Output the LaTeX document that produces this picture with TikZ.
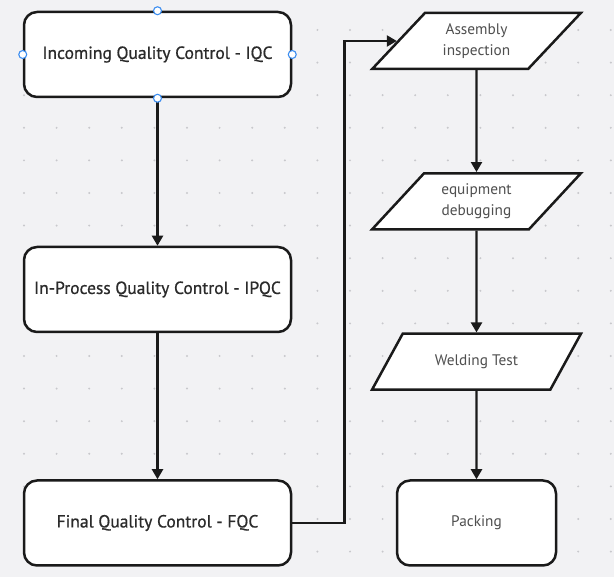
\documentclass[tikz,border=0pt]{standalone}
\usepackage{fontspec}
\setmainfont{PT Sans}
\newfontfamily\labelfont{PT Sans}[FakeBold=0.7]
\usetikzlibrary{arrows.meta, shapes.geometric}
\definecolor{cbg}{HTML}{F2F2F4}
\definecolor{cdot}{HTML}{C8C8CC}
\definecolor{cline}{HTML}{1A1A1A}
\definecolor{cdark}{HTML}{2B2B2B}
\definecolor{cgrey}{HTML}{4F4F4F}
\definecolor{chandle}{HTML}{3D8EF0}
\tikzset{
  every picture/.style={line width=2pt},
  box/.style={draw=cline, fill=white, rounded corners=13pt, line width=2.5pt, align=center,
    minimum width=267pt, minimum height=85pt, text=cdark, font=\labelfont\fontsize{17.5}{21}\selectfont},
  io/.style={trapezium, trapezium left angle=48, trapezium right angle=132, trapezium stretches=true,
    draw=cline, fill=white, line width=2.5pt, minimum width=209pt, minimum height=56pt,
    align=center, text=cgrey, font=\fontsize{15.3}{21.5}\selectfont},
  arrow/.style={-{Triangle[length=10pt, width=11pt]}, draw=cline, line width=2.2pt},
  handle/.style={circle, draw=chandle, fill=white, line width=1.1pt, inner sep=0pt, minimum size=8pt},
}

\begin{document}
\begin{tikzpicture}[x=1pt, y=-1pt]
  \fill[cbg] (0,0) rectangle (614,577);
  \useasboundingbox (0,0) rectangle (614,577);
  % dot grid
  \foreach \i in {0,...,18}
    \foreach \j in {0,...,16}
      \fill[cdot] ({24+32.6*\i},{30+32.6*\j}) circle (1.1pt);
  % quality control column
  \node[box] (iqc)  at (157.5,54.5) {Incoming Quality Control - IQC};
  \node[box] (ipqc) at (157.5,289.5) {In-Process Quality Control - IPQC};
  \node[box] (fqc)  at (157.5,523) {Final Quality Control - FQC};
  % assembly column
  \node[io] (asm)  at (476.5,41) {Assembly\\inspection};
  \node[io] (dbg)  at (476.5,201.3) {equipment\\debugging};
  \node[io] (weld) at (476.5,361.7) {Welding Test};
  \node[box, minimum width=159pt, text=cgrey, font=\fontsize{15.3}{18}\selectfont] (pack) at (476.5,523) {Packing};
  \draw[arrow] (iqc) -- (ipqc);
  \draw[arrow] (ipqc) -- (fqc);
  \coordinate (turn) at (344.5,41);
  \draw[arrow] (fqc.east) -| (turn) -- (asm.left side);
  \draw[arrow] (asm.south) -- (dbg.north);
  \draw[arrow] (dbg.south) -- (weld.north);
  \draw[arrow] (weld.south) -- (pack.north);
  \foreach \a in {north,west,east,south}
    \node[handle] (h-\a) at (iqc.\a) {};
\end{tikzpicture}
\end{document}
